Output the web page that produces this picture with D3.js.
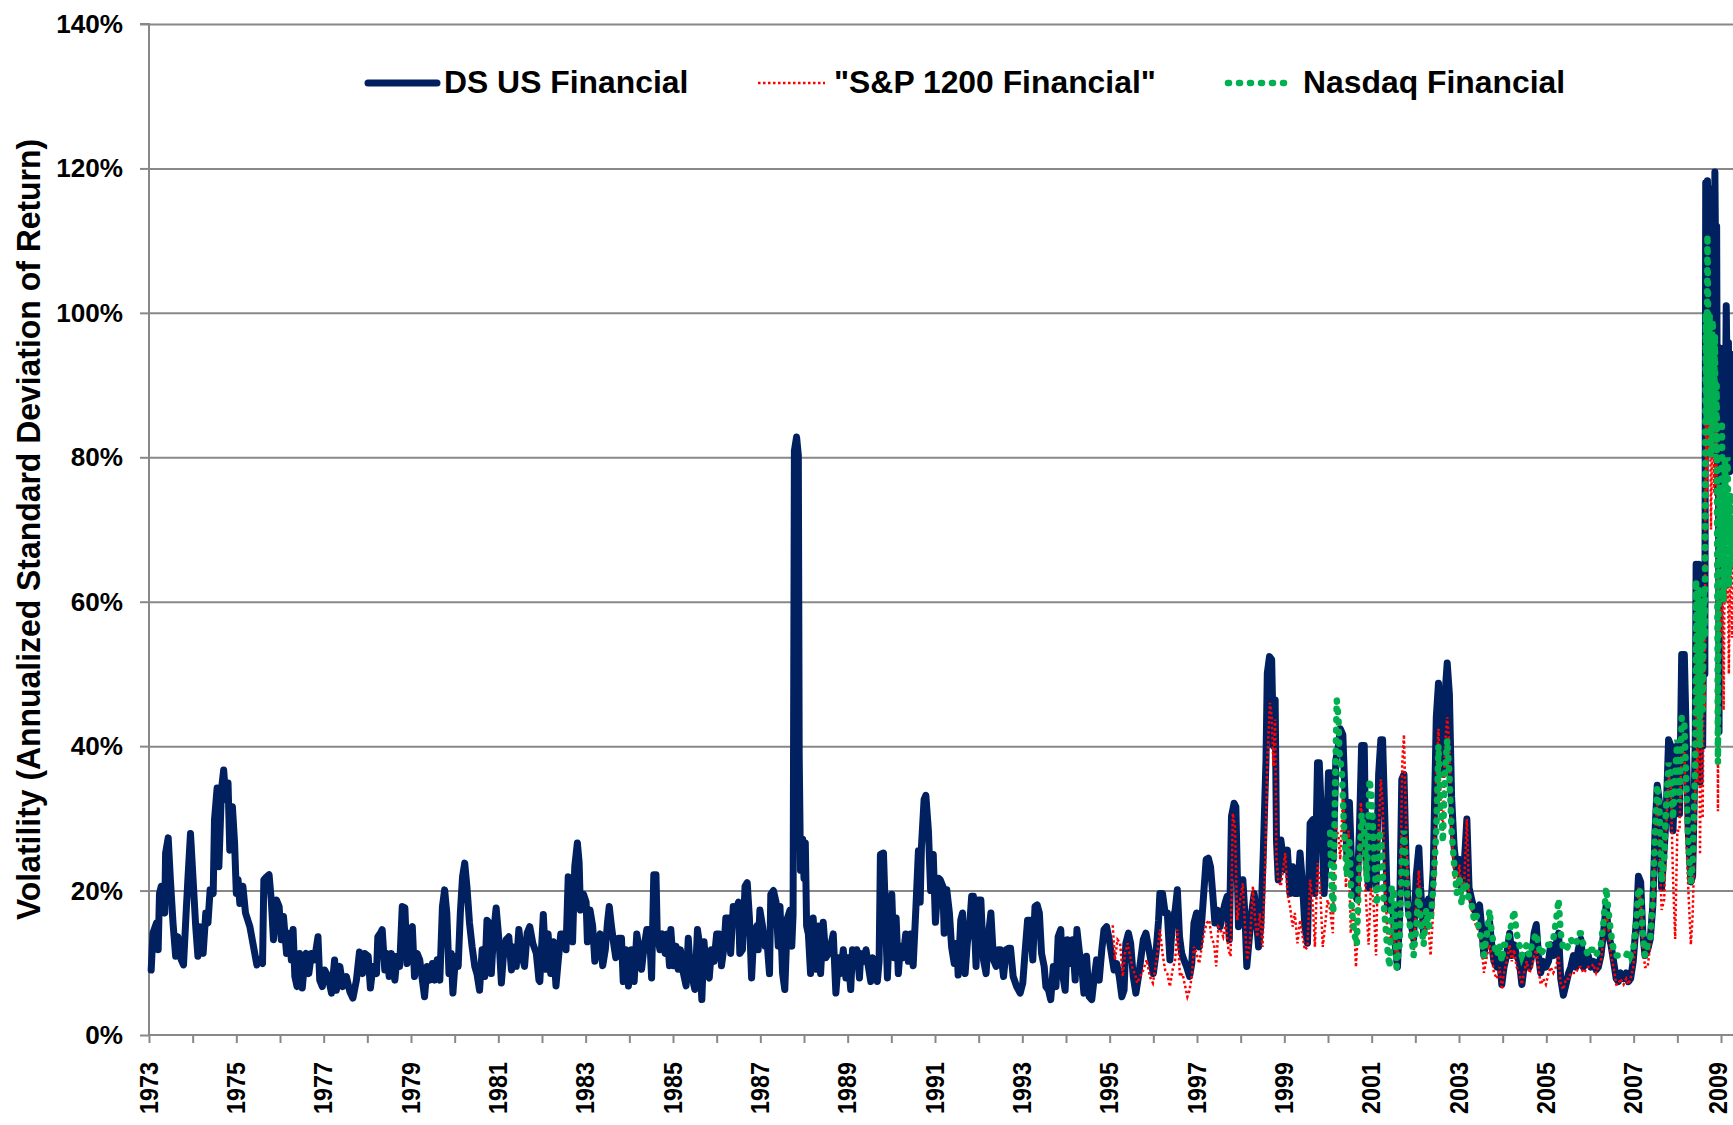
<!DOCTYPE html>
<html>
<head>
<meta charset="utf-8">
<script src="https://cdn.jsdelivr.net/npm/d3@7"></script>
<style>
  html, body { margin: 0; padding: 0; background: #ffffff; }
  svg { display: block; }
  text { font-family: "Liberation Sans", Arial, Helvetica, sans-serif; font-weight: bold; fill: #000; }
</style>
</head>
<body>
<svg id="chart" width="1733" height="1125"></svg>
<script>
// ---------------- DATA (decimal year, volatility %) ----------------
const seriesNames = ["DS US Financial", "\"S&P 1200 Financial\"", "Nasdaq Financial"];
const yTickValues = [0, 20, 40, 60, 80, 100, 120, 140];
const xTickYears = d3.range(1973, 2010);
const xLabelYears = [1973,1975,1977,1979,1981,1983,1985,1987,1989,1991,1993,1995,1997,1999,2001,2003,2005,2007,2009];

const dsUSFinancial = [
[1973.05,9.0],[1973.09,14.1],[1973.17,15.5],[1973.21,11.8],[1973.24,19.6],[1973.28,20.6],[1973.36,16.9],[1973.38,25.2],[1973.44,27.3],[1973.49,21.5],[1973.55,15.5],[1973.61,10.9],[1973.66,13.6],[1973.74,10.4],[1973.79,9.7],[1973.85,16.9],[1973.89,21.5],[1973.95,27.9],[1974.01,21.5],[1974.07,15.0],[1974.12,10.9],[1974.16,15.0],[1974.24,11.3],[1974.30,16.9],[1974.35,15.5],[1974.40,20.1],[1974.47,19.6],[1974.50,29.8],[1974.56,34.2],[1974.60,23.3],[1974.66,34.0],[1974.71,36.7],[1974.76,32.6],[1974.81,34.9],[1974.85,25.6],[1974.91,31.6],[1974.96,26.6],[1975.00,19.6],[1975.04,21.5],[1975.08,18.2],[1975.15,20.6],[1975.21,16.9],[1975.31,15.0],[1975.38,12.7],[1975.47,9.7],[1975.53,10.4],[1975.60,9.9],[1975.63,21.5],[1975.69,21.9],[1975.75,22.2],[1975.80,18.7],[1975.85,13.2],[1975.92,18.7],[1975.98,17.8],[1976.03,13.2],[1976.08,16.4],[1976.15,11.3],[1976.21,14.1],[1976.26,10.4],[1976.30,14.6],[1976.34,8.1],[1976.39,6.7],[1976.45,11.3],[1976.51,6.5],[1976.56,9.9],[1976.60,11.3],[1976.66,8.5],[1976.72,11.3],[1976.79,10.4],[1976.87,13.6],[1976.91,7.6],[1976.97,6.7],[1977.02,9.0],[1977.10,8.1],[1977.18,5.8],[1977.25,10.4],[1977.29,6.2],[1977.37,9.5],[1977.44,6.7],[1977.52,8.1],[1977.60,6.0],[1977.67,5.1],[1977.75,7.6],[1977.82,11.5],[1977.89,8.5],[1977.94,11.3],[1978.02,10.9],[1978.07,6.5],[1978.13,9.5],[1978.21,8.5],[1978.24,13.6],[1978.30,14.1],[1978.34,14.6],[1978.40,9.0],[1978.45,11.3],[1978.50,8.1],[1978.55,11.3],[1978.63,7.6],[1978.68,10.9],[1978.74,9.5],[1978.80,17.8],[1978.86,17.6],[1978.91,9.9],[1978.97,14.6],[1979.03,15.0],[1979.08,8.1],[1979.14,11.3],[1979.20,10.4],[1979.26,7.6],[1979.31,5.3],[1979.37,9.5],[1979.43,7.6],[1979.49,9.9],[1979.54,7.6],[1979.60,10.4],[1979.66,7.6],[1979.72,17.8],[1979.77,20.1],[1979.82,16.9],[1979.87,8.5],[1979.92,11.3],[1979.96,5.8],[1980.02,10.9],[1980.08,9.5],[1980.13,16.9],[1980.18,21.9],[1980.23,23.8],[1980.28,20.6],[1980.34,15.5],[1980.40,12.2],[1980.46,9.5],[1980.51,8.5],[1980.57,6.2],[1980.63,11.8],[1980.69,8.1],[1980.74,15.9],[1980.79,15.5],[1980.84,8.5],[1980.89,14.1],[1980.95,17.6],[1981.02,12.7],[1981.07,7.2],[1981.12,11.3],[1981.18,13.2],[1981.24,13.6],[1981.30,9.0],[1981.35,12.2],[1981.41,9.5],[1981.47,14.6],[1981.53,11.3],[1981.60,9.5],[1981.66,14.1],[1981.72,15.0],[1981.79,12.7],[1981.87,11.3],[1981.93,7.6],
[1981.95,7.4],[1982.03,16.7],[1982.09,9.1],[1982.14,14.0],[1982.20,8.5],[1982.26,12.9],[1982.32,6.8],[1982.37,10.2],[1982.43,14.0],[1982.50,14.0],[1982.55,11.8],[1982.60,21.9],[1982.66,21.7],[1982.70,12.9],[1982.75,23.3],[1982.81,26.6],[1982.85,23.9],[1982.88,17.3],[1982.95,19.5],[1983.01,18.4],[1983.04,12.9],[1983.10,17.3],[1983.16,15.1],[1983.21,10.2],[1983.27,12.3],[1983.33,14.0],[1983.39,9.6],[1983.45,11.8],[1983.50,15.6],[1983.54,17.8],[1983.59,15.1],[1983.65,12.3],[1983.69,10.7],[1983.75,13.4],[1983.82,13.4],[1983.86,7.4],[1983.92,11.8],[1983.98,6.8],[1984.05,11.8],[1984.11,7.4],[1984.17,14.0],[1984.23,11.8],[1984.28,9.1],[1984.33,11.8],[1984.40,14.6],[1984.46,14.6],[1984.51,7.9],[1984.56,22.2],[1984.61,22.2],[1984.64,14.0],[1984.70,11.8],[1984.76,14.0],[1984.82,11.3],[1984.87,14.0],[1984.92,9.6],[1984.95,14.6],[1985.01,9.6],[1985.07,12.3],[1985.12,9.1],[1985.17,11.8],[1985.24,8.5],[1985.30,6.8],[1985.35,13.4],[1985.40,8.5],[1985.46,7.4],[1985.50,6.3],[1985.56,14.6],[1985.60,12.9],[1985.66,4.9],[1985.71,12.9],[1985.77,8.5],[1985.83,7.9],[1985.88,11.8],[1985.94,10.2],[1986.00,14.0],[1986.06,14.0],[1986.11,9.6],[1986.17,12.3],[1986.21,16.2],[1986.27,16.2],[1986.32,11.3],[1986.38,17.8],[1986.44,17.3],[1986.50,18.4],[1986.53,11.3],[1986.59,11.8],[1986.65,20.6],[1986.70,21.1],[1986.75,16.2],[1986.80,7.9],[1986.85,14.0],[1986.92,15.1],[1986.95,11.8],[1986.99,17.3],[1987.05,15.1],[1987.11,12.3],[1987.14,14.0],[1987.21,8.5],[1987.24,19.5],[1987.30,20.0],[1987.36,18.4],[1987.41,12.3],[1987.45,17.8],[1987.51,8.5],[1987.56,6.3],[1987.62,16.2],[1987.68,17.3],[1987.72,12.3],[1987.75,16.7],[1987.78,80.9],[1987.83,82.8],[1987.87,80.3],[1987.89,38.7],[1987.92,22.8],[1987.97,27.1],[1988.00,21.7],[1988.03,26.6],[1988.06,15.1],[1988.10,14.0],[1988.15,8.5],[1988.21,16.2],[1988.27,9.1],[1988.33,15.1],[1988.38,8.5],[1988.44,15.6],[1988.50,10.7],[1988.56,11.3],[1988.61,12.3],[1988.67,14.0],[1988.73,5.8],[1988.79,10.7],[1988.84,8.5],[1988.90,11.8],[1988.96,7.9],[1989.01,10.7],[1989.07,6.3],[1989.11,11.8],[1989.17,9.6],[1989.21,11.8],[1989.27,7.9],[1989.30,11.3],[1989.36,10.2],[1989.42,11.8],[1989.47,9.6],[1989.53,7.4],[1989.57,10.7],[1989.63,9.6],[1989.68,7.4],[1989.72,10.2],[1989.75,25.0],[1989.82,25.2],[1989.85,19.5],[1989.91,7.9],[1989.95,14.0],[1990.01,19.5],[1990.06,10.7],[1990.11,16.2],[1990.16,8.5],[1990.21,12.3],[1990.27,10.7],[1990.33,14.0],[1990.39,10.2],[1990.44,14.0],[1990.50,9.6],[1990.56,17.3],[1990.62,25.5],[1990.66,18.4],[1990.69,26.1],[1990.75,32.6],[1990.79,33.2],[1990.85,28.2],[1990.90,20.0],[1990.96,25.0],[1991.01,15.6],[1991.08,21.7],
[1991.12,21.5],[1991.18,20.6],[1991.21,14.1],[1991.27,20.1],[1991.33,16.9],[1991.38,12.2],[1991.44,9.9],[1991.50,12.7],[1991.53,8.3],[1991.59,15.9],[1991.63,16.9],[1991.69,8.5],[1991.74,12.7],[1991.79,15.0],[1991.84,19.2],[1991.88,19.2],[1991.94,9.5],[1991.99,18.7],[1992.05,18.7],[1992.11,10.4],[1992.17,8.5],[1992.22,13.6],[1992.28,16.9],[1992.34,10.4],[1992.40,9.5],[1992.45,11.8],[1992.50,11.8],[1992.57,8.1],[1992.63,11.8],[1992.68,12.0],[1992.73,12.0],[1992.79,8.1],[1992.87,6.7],[1992.95,5.8],[1993.01,7.2],[1993.06,11.3],[1993.12,15.9],[1993.18,15.9],[1993.24,10.4],[1993.29,17.8],[1993.34,18.0],[1993.39,16.9],[1993.44,11.3],[1993.50,9.5],[1993.54,6.7],[1993.60,6.2],[1993.65,4.9],[1993.71,9.5],[1993.77,6.7],[1993.82,13.6],[1993.88,14.6],[1993.92,8.5],[1993.98,6.2],[1994.03,13.2],[1994.09,9.9],[1994.15,13.2],[1994.21,7.6],[1994.25,14.6],[1994.31,11.3],[1994.36,9.5],[1994.41,5.8],[1994.47,10.9],[1994.53,5.3],[1994.59,4.9],[1994.64,7.6],[1994.70,10.4],[1994.76,7.6],[1994.82,11.8],[1994.87,14.6],[1994.93,15.0],[1994.99,13.2],[1995.05,10.9],[1995.10,9.0],[1995.16,9.9],[1995.22,8.1],[1995.28,5.3],[1995.33,6.2],[1995.37,12.7],[1995.43,14.1],[1995.48,12.7],[1995.54,8.1],[1995.60,5.8],[1995.66,8.1],[1995.71,10.4],[1995.77,13.2],[1995.83,14.1],[1995.89,12.2],[1995.94,10.4],[1996.00,8.5],[1996.06,11.3],[1996.12,15.9],[1996.15,19.6],[1996.21,19.6],[1996.27,16.9],[1996.32,16.9],[1996.38,10.4],[1996.44,15.9],[1996.50,17.3],[1996.55,20.1],[1996.60,13.6],[1996.65,11.3],[1996.70,10.4],[1996.76,9.5],[1996.83,8.1],[1996.88,9.9],[1996.93,15.5],[1996.99,16.9],[1997.05,12.2],[1997.11,15.9],[1997.16,20.1],[1997.21,24.3],[1997.26,24.5],[1997.31,23.3],[1997.36,19.6],[1997.41,15.5],[1997.47,17.3],[1997.53,15.0],[1997.59,16.9],[1997.64,18.2],[1997.69,19.2],[1997.74,13.2],[1997.79,30.3],[1997.85,32.1],[1997.89,31.6],[1997.95,15.0],[1998.00,19.6],[1998.05,21.5],[1998.10,16.4],[1998.14,9.5],[1998.20,13.6],[1998.25,16.9],[1998.31,19.6],[1998.35,16.9],[1998.41,12.2],[1998.46,15.0],[1998.52,25.6],[1998.58,38.1],[1998.61,50.1],[1998.66,52.4],[1998.71,52.0],[1998.75,40.0],[1998.79,46.4],[1998.82,27.0],[1998.86,21.5],[1998.92,27.0],[1998.96,25.2],[1999.02,22.9],[1999.07,25.6],[1999.13,19.6],[1999.19,23.3],[1999.24,19.6],[1999.30,19.6],[1999.36,25.2],[1999.42,20.6],[1999.47,15.0],[1999.53,12.7],[1999.59,29.3],[1999.65,29.8],[1999.70,19.6],[1999.76,37.7],[1999.80,37.7],[1999.86,28.9],[1999.91,19.6],[1999.96,24.3],[2000.01,36.3],[2000.06,36.3],[2000.12,24.3],[2000.18,38.1],[2000.24,40.0],
[2000.28,42.4],[2000.34,41.6],[2000.39,33.0],[2000.43,25.1],[2000.49,32.2],[2000.54,23.6],[2000.60,20.4],[2000.66,18.8],[2000.72,28.3],[2000.77,40.1],[2000.83,40.1],[2000.87,24.3],[2000.93,20.4],[2000.98,29.9],[2001.04,25.1],[2001.10,20.4],[2001.16,36.1],[2001.21,40.9],[2001.25,40.9],[2001.31,28.3],[2001.36,18.0],[2001.42,17.3],[2001.48,18.0],[2001.54,12.5],[2001.59,9.4],[2001.64,16.5],[2001.69,35.4],[2001.74,36.1],[2001.79,23.6],[2001.84,17.3],[2001.90,15.7],[2001.96,13.3],[2002.02,22.0],[2002.08,25.9],[2002.12,20.4],[2002.19,14.1],[2002.25,18.0],[2002.30,18.8],[2002.35,17.3],[2002.41,22.8],[2002.48,44.0],[2002.53,48.7],[2002.58,40.1],[2002.63,36.1],[2002.68,47.2],[2002.73,51.5],[2002.78,47.2],[2002.83,33.0],[2002.89,25.9],[2002.95,22.8],[2003.01,24.3],[2003.06,20.4],[2003.12,23.6],[2003.18,29.9],[2003.23,20.4],[2003.29,18.8],[2003.35,17.3],[2003.41,17.3],[2003.47,18.0],[2003.52,14.9],[2003.57,11.0],[2003.64,14.1],[2003.70,15.7],[2003.75,12.5],[2003.80,10.2],[2003.87,9.4],[2003.93,11.0],[2003.98,7.0],[2004.03,9.4],[2004.09,11.0],[2004.16,14.1],[2004.21,11.0],[2004.26,12.5],[2004.32,11.0],[2004.38,10.2],[2004.44,7.0],[2004.49,9.4],[2004.55,11.0],[2004.61,9.4],[2004.67,11.0],[2004.72,14.1],[2004.77,15.3],[2004.82,11.0],[2004.87,8.6],[2004.93,10.2],[2004.99,9.4],[2005.05,10.2],[2005.10,12.5],[2005.16,11.0],[2005.22,12.5],[2005.28,14.1],[2005.33,7.8],[2005.39,5.5],[2005.45,7.0],[2005.51,8.6],[2005.56,9.4],[2005.62,11.0],[2005.68,9.4],[2005.73,11.8],[2005.79,13.3],[2005.85,9.4],[2005.91,10.2],[2005.96,11.0],[2006.02,9.4],[2006.08,10.2],[2006.14,9.0],[2006.19,9.4],[2006.25,11.0],[2006.31,14.1],[2006.37,18.0],[2006.42,14.1],[2006.48,12.5],[2006.54,10.2],[2006.60,7.8],[2006.65,7.4],[2006.70,8.6],[2006.77,7.8],[2006.83,8.6],[2006.88,7.4],[2006.93,7.8],[2006.99,10.2],[2007.06,15.7],[2007.11,22.0],[2007.16,21.2],[2007.21,14.1],[2007.26,11.0],[2007.32,11.8],[2007.38,13.3],[2007.44,18.0],[2007.49,28.3],[2007.54,34.6],[2007.59,32.2],[2007.64,20.4],[2007.70,25.9],[2007.74,29.9],[2007.80,40.9],[2007.85,40.1],[2007.90,28.3],[2007.95,36.9],[2008.00,40.1],[2008.05,30.6],[2008.10,52.7],[2008.16,52.7],[2008.20,42.4],[2008.25,28.3],[2008.31,21.2],[2008.35,22.0],[2008.41,40.1],[2008.43,65.2],[2008.46,45.0],[2008.49,65.2],[2008.52,35.0],[2008.55,62.0],[2008.58,40.0],[2008.61,64.0],[2008.63,50.0],[2008.65,118.0],[2008.67,100.0],[2008.69,118.3],[2008.72,105.0],[2008.74,114.8],[2008.77,110.1],[2008.79,95.0],[2008.81,117.2],[2008.84,100.0],[2008.86,119.5],[2008.88,105.0],[2008.90,112.0],[2008.92,75.0],[2008.94,91.2],[2008.955,42.0],[2008.97,85.0],[2008.99,95.1],[2009.02,75.5],[2009.06,95.1],[2009.09,80.0],[2009.12,101.0],[2009.15,85.0],[2009.17,95.9],[2009.20,78.0],[2009.22,94.3],[2009.25,82.0],[2009.28,92.8],[2009.31,85.0]
];

const sp1200Financial = [
[1995.07,15.2],[1995.12,10.4],[1995.18,13.2],[1995.24,12.7],[1995.30,8.1],[1995.35,11.3],[1995.41,12.7],[1995.47,10.9],[1995.53,9.0],[1995.58,8.5],[1995.63,7.2],[1995.70,8.1],[1995.77,9.0],[1995.85,10.4],[1995.92,8.1],[1995.99,7.2],[1996.04,9.0],[1996.09,11.3],[1996.15,14.6],[1996.21,11.3],[1996.27,9.0],[1996.32,8.5],[1996.38,6.7],[1996.44,9.0],[1996.50,10.4],[1996.55,14.6],[1996.61,8.1],[1996.67,8.5],[1996.73,6.7],[1996.78,5.3],[1996.83,6.2],[1996.88,8.1],[1996.93,12.2],[1996.99,11.3],[1997.05,9.9],[1997.11,12.2],[1997.16,14.1],[1997.22,15.5],[1997.28,15.9],[1997.34,13.2],[1997.39,12.7],[1997.44,9.5],[1997.49,15.0],[1997.54,14.6],[1997.60,13.6],[1997.66,15.5],[1997.72,11.8],[1997.77,10.9],[1997.82,30.7],[1997.87,28.9],[1997.92,15.9],[1997.99,18.7],[1998.05,21.0],[1998.10,15.0],[1998.15,10.4],[1998.21,12.7],[1998.28,20.6],[1998.33,15.9],[1998.38,13.6],[1998.44,16.9],[1998.50,12.2],[1998.56,23.3],[1998.61,38.1],[1998.67,46.0],[1998.71,44.1],[1998.75,37.2],[1998.79,43.7],[1998.82,24.3],[1998.86,21.5],[1998.92,20.6],[1998.96,22.4],[1999.02,25.2],[1999.07,19.6],[1999.13,17.8],[1999.19,15.0],[1999.24,16.9],[1999.30,12.7],[1999.36,15.9],[1999.42,13.6],[1999.47,11.8],[1999.53,12.2],[1999.59,21.5],[1999.65,18.2],[1999.70,12.2],[1999.76,23.8],[1999.82,20.6],[1999.88,12.2],[1999.93,15.0],[1999.99,18.7],[2000.05,17.3],[2000.11,14.1],[2000.16,29.3],[2000.24,27.5],
[2000.28,24.3],[2000.35,33.8],[2000.41,20.4],[2000.47,28.3],[2000.52,14.1],[2000.58,18.0],[2000.64,9.4],[2000.70,16.5],[2000.75,32.2],[2000.81,28.3],[2000.87,18.8],[2000.93,12.5],[2000.98,20.4],[2001.04,18.8],[2001.10,11.0],[2001.16,28.3],[2001.21,35.4],[2001.25,32.2],[2001.31,20.4],[2001.36,14.1],[2001.42,12.5],[2001.48,15.7],[2001.54,11.8],[2001.59,10.2],[2001.65,16.5],[2001.70,37.7],[2001.74,41.6],[2001.79,28.3],[2001.84,18.0],[2001.90,14.1],[2001.96,11.0],[2002.02,18.0],[2002.08,22.8],[2002.12,18.0],[2002.19,12.5],[2002.25,16.5],[2002.30,14.9],[2002.35,11.0],[2002.41,17.3],[2002.48,36.1],[2002.53,42.4],[2002.58,32.2],[2002.63,28.3],[2002.68,40.1],[2002.73,44.0],[2002.78,40.1],[2002.83,28.3],[2002.89,22.0],[2002.95,20.4],[2003.01,23.6],[2003.06,18.8],[2003.12,21.2],[2003.18,29.9],[2003.23,19.6],[2003.29,17.3],[2003.35,15.7],[2003.41,14.9],[2003.47,14.1],[2003.52,12.5],[2003.57,8.6],[2003.64,11.0],[2003.70,12.5],[2003.75,11.0],[2003.80,8.6],[2003.87,7.8],[2003.93,9.4],[2003.98,6.3],[2004.03,8.6],[2004.09,10.2],[2004.16,12.5],[2004.21,10.2],[2004.26,11.8],[2004.32,9.4],[2004.38,8.6],[2004.44,7.0],[2004.49,8.6],[2004.55,10.2],[2004.61,8.6],[2004.67,9.4],[2004.72,11.0],[2004.77,11.8],[2004.82,9.4],[2004.87,7.0],[2004.93,7.8],[2004.99,7.0],[2005.05,8.6],[2005.10,9.4],[2005.16,8.6],[2005.22,9.4],[2005.28,11.0],[2005.33,7.0],[2005.39,6.3],[2005.45,7.8],[2005.51,7.8],[2005.56,8.6],[2005.62,8.6],[2005.68,8.6],[2005.73,9.4],[2005.79,9.4],[2005.85,8.6],[2005.91,9.0],[2005.96,9.4],[2006.02,9.4],[2006.08,9.8],[2006.14,8.6],[2006.19,9.4],[2006.25,10.2],[2006.31,13.3],[2006.37,17.3],[2006.42,14.9],[2006.48,11.0],[2006.54,9.4],[2006.60,7.0],[2006.65,7.0],[2006.70,7.8],[2006.77,7.0],[2006.83,7.8],[2006.88,7.0],[2006.93,7.8],[2006.99,9.4],[2007.06,14.1],[2007.11,20.4],[2007.16,18.8],[2007.21,12.5],[2007.26,9.4],[2007.32,9.4],[2007.38,12.5],[2007.44,17.3],[2007.49,25.9],[2007.54,32.2],[2007.59,26.7],[2007.64,17.3],[2007.70,18.8],[2007.74,28.3],[2007.80,36.1],[2007.85,34.6],[2007.90,22.0],[2007.95,13.3],[2008.00,28.3],[2008.05,28.3],[2008.10,40.1],[2008.16,39.3],[2008.20,28.3],[2008.25,20.4],[2008.31,12.5],[2008.35,16.5],[2008.41,30.0],[2008.43,55.0],[2008.46,35.0],[2008.49,58.0],[2008.52,25.0],[2008.55,50.0],[2008.58,30.0],[2008.61,55.0],[2008.63,45.0],[2008.65,95.0],[2008.67,75.0],[2008.69,100.0],[2008.72,80.0],[2008.74,96.0],[2008.77,70.0],[2008.79,80.0],[2008.81,90.0],[2008.84,75.0],[2008.86,93.0],[2008.88,78.0],[2008.90,85.0],[2008.93,31.0],[2008.95,60.0],[2008.97,76.0],[2008.99,55.0],[2009.02,75.0],[2009.06,45.0],[2009.09,70.0],[2009.12,60.0],[2009.15,72.0],[2009.18,50.0],[2009.21,68.0],[2009.25,55.0],[2009.28,65.0],[2009.31,60.0]
];

const nasdaqFinancial = [
[2000.05,28.0],[2000.08,21.0],[2000.12,16.9],[2000.16,33.5],[2000.20,46.4],[2000.24,44.0],
[2000.26,39.3],[2000.32,36.1],[2000.37,28.3],[2000.43,22.0],[2000.49,26.7],[2000.54,18.0],[2000.60,14.1],[2000.66,12.5],[2000.72,24.3],[2000.77,30.6],[2000.83,28.3],[2000.89,21.2],[2000.95,35.4],[2001.00,33.0],[2001.06,24.3],[2001.12,18.0],[2001.18,28.3],[2001.23,25.9],[2001.28,18.0],[2001.35,12.5],[2001.41,9.4],[2001.46,20.4],[2001.51,20.4],[2001.57,9.4],[2001.64,12.5],[2001.69,24.3],[2001.74,28.3],[2001.79,22.8],[2001.84,16.5],[2001.90,14.1],[2001.96,11.0],[2002.02,14.9],[2002.08,20.4],[2002.12,15.7],[2002.19,12.5],[2002.25,17.3],[2002.30,14.9],[2002.35,15.7],[2002.41,20.4],[2002.48,28.3],[2002.53,40.1],[2002.58,32.2],[2002.63,26.7],[2002.68,36.1],[2002.73,40.9],[2002.78,36.1],[2002.83,28.3],[2002.89,23.6],[2002.95,19.6],[2003.01,22.0],[2003.06,18.0],[2003.12,21.2],[2003.18,20.4],[2003.23,18.8],[2003.29,18.0],[2003.35,15.7],[2003.41,16.5],[2003.47,14.1],[2003.52,13.3],[2003.57,11.0],[2003.64,14.1],[2003.70,17.3],[2003.75,14.1],[2003.80,12.5],[2003.87,11.0],[2003.93,12.5],[2003.98,10.2],[2004.03,12.5],[2004.09,12.5],[2004.16,14.1],[2004.21,15.7],[2004.26,17.3],[2004.32,14.1],[2004.38,12.5],[2004.44,11.0],[2004.49,11.8],[2004.55,12.5],[2004.61,11.0],[2004.67,12.5],[2004.72,13.3],[2004.77,14.1],[2004.82,12.5],[2004.87,11.0],[2004.93,11.8],[2004.99,12.5],[2005.05,12.5],[2005.10,12.5],[2005.16,13.3],[2005.22,15.7],[2005.28,18.8],[2005.33,14.1],[2005.39,11.8],[2005.45,11.8],[2005.51,12.5],[2005.56,13.3],[2005.62,12.5],[2005.68,12.5],[2005.73,14.1],[2005.79,14.1],[2005.85,12.5],[2005.91,11.8],[2005.96,11.0],[2006.02,11.8],[2006.08,11.8],[2006.14,11.0],[2006.19,11.8],[2006.25,12.5],[2006.31,15.7],[2006.37,20.4],[2006.42,17.3],[2006.48,14.1],[2006.54,11.8],[2006.60,11.0],[2006.65,11.0],[2006.70,11.0],[2006.77,11.0],[2006.83,11.0],[2006.88,11.8],[2006.93,11.0],[2006.99,11.8],[2007.06,15.7],[2007.11,20.4],[2007.16,19.6],[2007.21,14.1],[2007.26,11.0],[2007.32,12.5],[2007.38,13.3],[2007.44,18.8],[2007.49,28.3],[2007.54,34.6],[2007.59,31.4],[2007.64,21.2],[2007.70,24.3],[2007.74,31.4],[2007.80,37.7],[2007.85,36.1],[2007.90,29.9],[2007.95,36.1],[2008.00,40.9],[2008.05,32.2],[2008.10,44.0],[2008.16,43.2],[2008.20,36.1],[2008.25,26.7],[2008.31,21.2],[2008.35,23.6],[2008.41,38.0],[2008.43,63.0],[2008.46,45.0],[2008.49,62.0],[2008.52,40.0],[2008.55,60.0],[2008.58,45.0],[2008.61,62.0],[2008.63,55.0],[2008.65,100.0],[2008.67,85.0],[2008.69,110.8],[2008.72,90.0],[2008.74,100.0],[2008.77,80.0],[2008.79,95.0],[2008.81,99.0],[2008.84,85.0],[2008.86,97.0],[2008.88,80.0],[2008.90,90.0],[2008.93,37.7],[2008.95,67.0],[2008.97,76.0],[2008.99,65.0],[2009.02,85.0],[2009.06,60.0],[2009.09,80.0],[2009.12,68.0],[2009.15,80.0],[2009.18,62.0],[2009.21,75.0],[2009.25,65.0],[2009.28,72.0],[2009.31,68.0]
];

// ---------------- LAYOUT ----------------
const W = 1733, H = 1125;
const plot = { left: 149, top: 24, bottom: 1035, right: 1740 };
const colors = { ds: "#002060", sp: "#FF0000", nq: "#00B050", grid: "#888888" };
const FONT = "Liberation Sans, Arial, sans-serif";

const svg = d3.select("#chart");
const x = d3.scaleLinear().domain([1973, 2009]).range([149, 1721]);
const y = d3.scaleLinear().domain([0, 140]).range([plot.bottom, plot.top]);

// gridlines
svg.append("g")
  .attr("transform", `translate(${plot.left},0)`)
  .call(d3.axisLeft(y).tickValues(yTickValues.filter(v => v > 0)).tickSize(-(plot.right - plot.left)).tickFormat(""))
  .call(g => g.select(".domain").remove())
  .call(g => g.selectAll("line").attr("stroke", colors.grid).attr("stroke-width", 2));

// y axis
const yStretch = 1.045;
svg.append("g")
  .attr("transform", `translate(${plot.left},0)`)
  .call(d3.axisLeft(y).tickValues(yTickValues).tickSize(9).tickFormat(d => d + "%"))
  .call(g => g.select(".domain").attr("stroke", colors.grid).attr("stroke-width", 2).attr("d", `M-9,${plot.top}H0V${plot.bottom}`))
  .call(g => g.selectAll("line").attr("stroke", colors.grid).attr("stroke-width", 2))
  .call(g => g.selectAll("text")
      .attr("font-size", 25).attr("font-family", FONT).attr("font-weight", "bold").attr("fill", "#000")
      .attr("x", -26 / yStretch).attr("dy", "0.34em")
      .attr("transform", `scale(${yStretch},1)`));

// x axis
const xSquash = 0.935;
svg.append("g")
  .attr("transform", `translate(0,${plot.bottom})`)
  .call(d3.axisBottom(x).tickValues(xTickYears).tickSize(8).tickFormat(d => xLabelYears.includes(d) ? String(d) : ""))
  .call(g => g.select(".domain").attr("stroke", colors.grid).attr("stroke-width", 2).attr("d", `M${plot.left},0H${plot.right}`))
  .call(g => g.selectAll("line").attr("stroke", colors.grid).attr("stroke-width", 2))
  .call(g => g.selectAll("text")
      .attr("font-size", 25).attr("font-family", FONT).attr("font-weight", "bold").attr("fill", "#000")
      .attr("text-anchor", "end").attr("transform", `rotate(-90) scale(${xSquash},1)`)
      .attr("x", -27 / xSquash).attr("y", 0)
      .attr("dy", d => d === 2009 ? "0.2em" : "0.33em"));

// y title
svg.append("text")
  .attr("transform", `translate(29,${(plot.top + plot.bottom) / 2}) rotate(-90) scale(0.967,1)`)
  .attr("text-anchor", "middle").attr("dominant-baseline", "central")
  .attr("font-size", 33)
  .text("Volatility (Annualized Standard Deviation of Return)");

// series
const line = d3.line().x(d => x(d[0])).y(d => y(d[1]));
const gSeries = svg.append("g");
gSeries.append("path").datum(dsUSFinancial)
  .attr("d", line).attr("fill", "none").attr("stroke", colors.ds)
  .attr("stroke-width", 7).attr("stroke-linejoin", "round").attr("stroke-linecap", "round");
gSeries.append("path").datum(sp1200Financial)
  .attr("d", line).attr("fill", "none").attr("stroke", colors.sp)
  .attr("stroke-width", 2.5).attr("stroke-dasharray", "2.5 2.5");
gSeries.append("path").datum(nasdaqFinancial)
  .attr("d", line).attr("fill", "none").attr("stroke", colors.nq)
  .attr("stroke-width", 6.5).attr("stroke-linecap", "round").attr("stroke-dasharray", "1 9.5");

// legend
const legendY = 83;
const legendItems = [
  { name: seriesNames[0], x0: 368, x1: 437, tx: 444, color: colors.ds, w: 7, dash: null, cap: "round" },
  { name: seriesNames[1], x0: 758, x1: 825, tx: 834, color: colors.sp, w: 2.5, dash: "2.5 2.5", cap: "butt" },
  { name: seriesNames[2], x0: 1228, x1: 1290, tx: 1303, color: colors.nq, w: 6.5, dash: "1 10", cap: "round" }
];
const lg = svg.append("g");
legendItems.forEach(it => {
  lg.append("line").attr("x1", it.x0).attr("x2", it.x1).attr("y1", legendY).attr("y2", legendY)
    .attr("stroke", it.color).attr("stroke-width", it.w).attr("stroke-linecap", it.cap)
    .attr("stroke-dasharray", it.dash);
  lg.append("text").attr("transform", `translate(${it.tx},${legendY}) scale(1.045,1)`)
    .attr("dominant-baseline", "central")
    .attr("font-size", 30.5).text(it.name);
});
</script>
</body>
</html>
